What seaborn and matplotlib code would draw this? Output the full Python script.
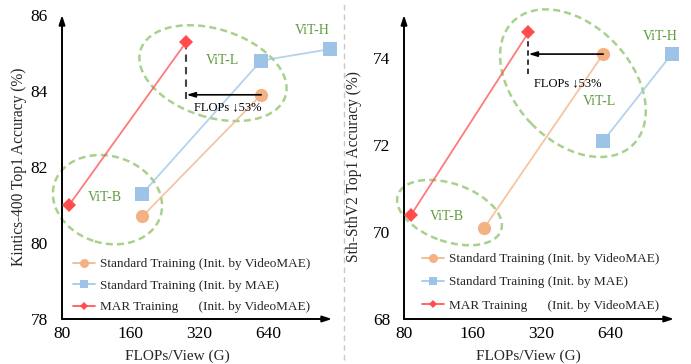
import numpy as np
import pandas as pd
import matplotlib
matplotlib.use("Agg")
import matplotlib.pyplot as plt
import seaborn as sns
from matplotlib.patches import Ellipse
from matplotlib.lines import Line2D
from matplotlib.transforms import ScaledTranslation

# ---------------- data ----------------
x_ticks = [80, 160, 320, 640]
models = ["ViT-B", "ViT-L", "ViT-H"]

# Kinetics-400
k400_std_vmae_flops = [180, 597]
k400_std_vmae_acc = [80.7, 83.9]
k400_std_mae_flops = [180, 597, 1192]
k400_std_mae_acc = [81.3, 84.8, 85.1]
k400_mar_flops = [86, 281]
k400_mar_acc = [81.0, 85.3]

# Something-Something V2
ssv2_std_vmae_flops = [180, 597]
ssv2_std_vmae_acc = [70.1, 74.1]
ssv2_std_mae_flops = [597, 1192]
ssv2_std_mae_acc = [72.1, 74.1]
ssv2_mar_flops = [86, 281]
ssv2_mar_acc = [70.4, 74.6]

legend_labels = ["Standard Training (Init. by VideoMAE)",
                 "Standard Training (Init. by MAE)",
                 "MAR Training      (Init. by VideoMAE)"]
annot_text = "FLOPs \u219353%"

ORANGE = "#F4B183"
BLUE = "#9DC3E6"
RED = "#FF4D4D"
GREEN_E = "#A9D18E"
GREEN_T = "#5E9A3B"

sns.set_style("white")
plt.rcParams["font.family"] = ["Liberation Serif", "DejaVu Serif"]

W, H = 691, 364
fig = plt.figure(figsize=(W / 100, H / 100), dpi=100)

def axpos(left, right, top, bottom):
    return [left / W, (H - bottom) / H, (right - left) / W, (bottom - top) / H]

ax1 = fig.add_axes(axpos(62, 332, 15, 319))
ax2 = fig.add_axes(axpos(404, 674, 15, 319))


def draw_panel(ax, series, ylim, yticks, ylabel, ylab_x, xlab_x,
               ellipses, labels, red_pt, orange_pt, dash_end, dash_color, dash_lw,
               text_pos, leg_anchor, leg_spacing):
    for (fx, fy, color, marker, ms, lab) in series:
        df = pd.DataFrame({"flops": fx, "acc": fy})
        sns.lineplot(data=df, x="flops", y="acc", ax=ax, color=color,
                     linewidth=1.3, alpha=0.75, legend=False, zorder=3,
                     clip_on=False)
        sns.lineplot(data=df, x="flops", y="acc", ax=ax, color=color,
                     marker=marker, markersize=ms, markeredgewidth=0,
                     linestyle="", legend=False, zorder=4, clip_on=False)
    ax.set_xscale("log", base=2)
    ax.set_xlim(80, 1220)
    ax.set_ylim(*ylim)
    ax.set_xticks(x_ticks)
    ax.set_xticklabels([str(t) for t in x_ticks])
    ax.xaxis.set_minor_locator(matplotlib.ticker.NullLocator())
    ax.set_yticks(yticks)
    ax.set_yticklabels([str(t) for t in yticks])
    ax.tick_params(axis="both", length=0, labelsize=12.5, colors="black")
    ax.tick_params(axis="y", pad=10)
    ax.tick_params(axis="x", pad=5)
    for s in ax.spines.values():
        s.set_visible(False)
    ax.set_facecolor("none")
    ax.grid(False)
    # axis arrows
    ax.annotate("", xy=(0, 1.0), xytext=(0, 0), xycoords="axes fraction",
                arrowprops=dict(arrowstyle="-|>,head_length=0.55,head_width=0.18",
                                color="black", lw=1.4, shrinkA=0, shrinkB=0))
    ax.annotate("", xy=(1.0, 0), xytext=(0, 0), xycoords="axes fraction",
                arrowprops=dict(arrowstyle="-|>,head_length=0.55,head_width=0.18",
                                color="black", lw=1.4, shrinkA=0, shrinkB=0))
    ax.set_ylabel(ylabel, fontsize=11.2)
    ax.yaxis.set_label_coords(ylab_x, 0.5)
    ax.set_xlabel("FLOPs/View (G)", fontsize=11)
    ax.xaxis.set_label_coords(xlab_x, -0.1)

    # ellipses: center in data coords, size in pixels
    for (cx, cy, w, h, ang) in ellipses:
        e = Ellipse((0, 0), w, h, angle=ang, fill=False, edgecolor=GREEN_E,
                    lw=1.8, linestyle=(0, (2.8, 1.7)),
                    transform=ScaledTranslation(cx, cy, ax.transData),
                    clip_on=False, zorder=2)
        ax.add_artist(e)
    for (lx, ly, t) in labels:
        ax.text(lx, ly, t, color=GREEN_T, fontsize=10, ha="center", va="center")

    # FLOPs reduction arrow
    ax.annotate("", xy=(red_pt[0], orange_pt[1]), xytext=(orange_pt[0], orange_pt[1]),
                arrowprops=dict(arrowstyle="-|>,head_length=0.5,head_width=0.15",
                                color="black", lw=1.2, shrinkA=0, shrinkB=0),
                zorder=5)
    ax.plot([red_pt[0], red_pt[0]], [red_pt[1], dash_end], color=dash_color,
            lw=dash_lw, linestyle=(0, (3.5, 2.5)), zorder=3)
    ax.text(text_pos[0], text_pos[1], annot_text, fontsize=9, ha="center",
            va="center", color="black",
            family=["Liberation Serif", "DejaVu Serif"])

    handles = [Line2D([], [], color=ORANGE, marker="o", ms=6.5, mew=0, lw=1.2),
               Line2D([], [], color=BLUE, marker="s", ms=6, mew=0, lw=1.2),
               Line2D([], [], color=RED, marker="D", ms=4.5, mew=0, lw=1.2)]
    ax.legend(handles, legend_labels, loc="upper left", bbox_to_anchor=leg_anchor,
              frameon=False, fontsize=9.5, borderpad=0, borderaxespad=0,
              handlelength=1.65, handletextpad=0.4, labelspacing=leg_spacing)


draw_panel(
    ax1,
    [(k400_std_vmae_flops, k400_std_vmae_acc, ORANGE, "o", 9.5, legend_labels[0]),
     (k400_std_mae_flops, k400_std_mae_acc, BLUE, "s", 9.5, legend_labels[1]),
     (k400_mar_flops, k400_mar_acc, RED, "D", 7, legend_labels[2])],
    (78, 86), [78, 80, 82, 84, 86], "Kintics-400 Top1 Accuracy (%)", -0.13, 0.426,
    [(367, 84.47, 152, 88, -17.8), (126.6, 81.14, 111, 87, -17)],
    [(402, 84.8, "ViT-L"), (1004, 85.6, "ViT-H"), (123, 81.2, "ViT-B")],
    (k400_mar_flops[1], k400_mar_acc[1]), (k400_std_vmae_flops[1], k400_std_vmae_acc[1]),
    83.79, "#444444", 1.5, (427, 83.58), (0.041, 0.2), 0.7)

draw_panel(
    ax2,
    [(ssv2_std_vmae_flops, ssv2_std_vmae_acc, ORANGE, "o", 9.5, legend_labels[0]),
     (ssv2_std_mae_flops, ssv2_std_mae_acc, BLUE, "s", 9.5, legend_labels[1]),
     (ssv2_mar_flops, ssv2_mar_acc, RED, "D", 7, legend_labels[2])],
    (68, 75), [68, 70, 72, 74], "Sth-SthV2 Top1 Accuracy (%)", -0.156, 0.46,
    [(440, 73.43, 172, 116, -46), (126.6, 70.45, 109, 58, -19)],
    [(1060, 74.5, "ViT-H"), (577, 73.0, "ViT-L"), (123, 70.37, "ViT-B")],
    (ssv2_mar_flops[1], ssv2_mar_acc[1]), (ssv2_std_vmae_flops[1], ssv2_std_vmae_acc[1]),
    73.57, "black", 1.1, (419, 73.43), (0.067, 0.217), 0.83)

# divider between panels
fig.add_artist(Line2D([344 / W, 344 / W], [4 / H, 1 - 4 / H], transform=fig.transFigure,
                      color="#C8C8C8", lw=1.0, linestyle=(0, (4, 3))))

fig.savefig("out.png", dpi=100)
